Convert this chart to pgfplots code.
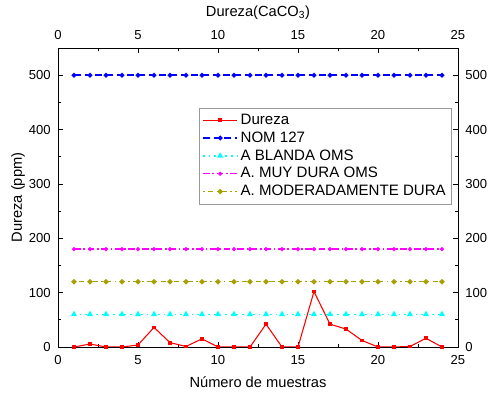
\documentclass[border=0pt]{standalone}
\usepackage{pgfplots}
\pgfplotsset{compat=1.18}
\usepackage{fontspec}
\setmainfont{Liberation Sans}
\definecolor{cRed}{RGB}{255,0,0}
\definecolor{cBlue}{RGB}{0,0,255}
\definecolor{cCyan}{RGB}{0,255,255}
\definecolor{cMag}{RGB}{255,0,255}
\definecolor{cOlive}{RGB}{168,160,0}
\begin{document}
\begin{tikzpicture}[x=0.75pt,y=0.75pt]
\useasboundingbox (-58,-48) rectangle (435,347);
\pgfplotsset{
  common/.style={
    scale only axis, width=300pt, height=224.25pt,
    xmin=0, xmax=25, ymin=0, ymax=550,
    xtick={0,5,...,25}, ytick={0,100,...,500},
    minor x tick num=1, minor y tick num=1,
    tick align=inside,
    major tick length=4pt, minor tick length=2.5pt,
    tick style={black, line width=0.6pt},
    axis line style={line width=0.6pt},
    tick label style={font=\fontsize{9.8}{10}\selectfont},
    label style={font=\fontsize{11}{12}\selectfont},
    /pgf/number format/assume math mode=true,
  }
}
\begin{axis}[common,
  xlabel={Número de muestras}, ylabel={Dureza (ppm)},
  xtick pos=both, ytick pos=both,
  xticklabel pos=bottom, yticklabel pos=left,
  xticklabel style={yshift=-3pt}, yticklabel style={xshift=-2pt},
  xlabel style={yshift=-2pt}, ylabel style={yshift=-4pt},
  legend style={at={(0.985,0.80)}, anchor=north east, draw=black!40,
    font=\fontsize{11.3}{12}\selectfont, row sep=0pt, inner sep=2.5pt,
    cells={anchor=west}},
  legend cell align=left,
  legend image code/.code={\draw (0cm,0cm) -- (0.9cm,0cm); \draw plot coordinates {(0.45cm,0cm)};},
]
\addplot[cRed, line width=0.8pt, mark=square*, mark size=1pt] coordinates {
(1,0) (2,5.5) (3,0) (4,0) (5,3.7) (6,36) (7,8) (8,1) (9,15) (10,0) (11,0) (12,0)
(13,42) (14,0) (15,0) (16,102) (17,42) (18,33) (19,12) (20,0) (21,0) (22,1) (23,16) (24,0)};
\addlegendentry{Dureza}
\addplot[cBlue, line width=1.1pt, dash pattern=on 5pt off 3pt, mark=*, mark size=1.2pt, mark options={solid}] coordinates {
(1,500) (2,500) (3,500) (4,500) (5,500) (6,500) (7,500) (8,500) (9,500) (10,500) (11,500) (12,500)
(13,500) (14,500) (15,500) (16,500) (17,500) (18,500) (19,500) (20,500) (21,500) (22,500) (23,500) (24,500)};
\addlegendentry{NOM 127}
\addplot[cCyan, line width=1.1pt, dash pattern=on 1.2pt off 3pt, mark=triangle*, mark size=1.6pt, mark options={solid}] coordinates {
(1,60) (2,60) (3,60) (4,60) (5,60) (6,60) (7,60) (8,60) (9,60) (10,60) (11,60) (12,60)
(13,60) (14,60) (15,60) (16,60) (17,60) (18,60) (19,60) (20,60) (21,60) (22,60) (23,60) (24,60)};
\addlegendentry{A BLANDA OMS}
\addplot[cMag, line width=1.1pt, dash pattern=on 5pt off 2pt on 1.2pt off 2pt, mark=*, mark size=0.9pt, mark options={solid}] coordinates {
(1,180) (2,180) (3,180) (4,180) (5,180) (6,180) (7,180) (8,180) (9,180) (10,180) (11,180) (12,180)
(13,180) (14,180) (15,180) (16,180) (17,180) (18,180) (19,180) (20,180) (21,180) (22,180) (23,180) (24,180)};
\addlegendentry{A. MUY DURA OMS}
\addplot[cOlive, line width=1.1pt, dash pattern=on 1.2pt off 2.5pt on 4pt off 2.5pt, mark=*, mark size=1.3pt, mark options={solid}] coordinates {
(1,120) (2,120) (3,120) (4,120) (5,120) (6,120) (7,120) (8,120) (9,120) (10,120) (11,120) (12,120)
(13,120) (14,120) (15,120) (16,120) (17,120) (18,120) (19,120) (20,120) (21,120) (22,120) (23,120) (24,120)};
\addlegendentry{A. MODERADAMENTE DURA}
\end{axis}
\begin{axis}[common,
  axis x line*=top, axis y line*=right,
  xlabel={Dureza(CaCO\textsubscript{3})},
  xticklabel style={yshift=3pt}, yticklabel style={xshift=2pt},
  xlabel style={yshift=1pt},
]
\end{axis}
\end{tikzpicture}
\end{document}
